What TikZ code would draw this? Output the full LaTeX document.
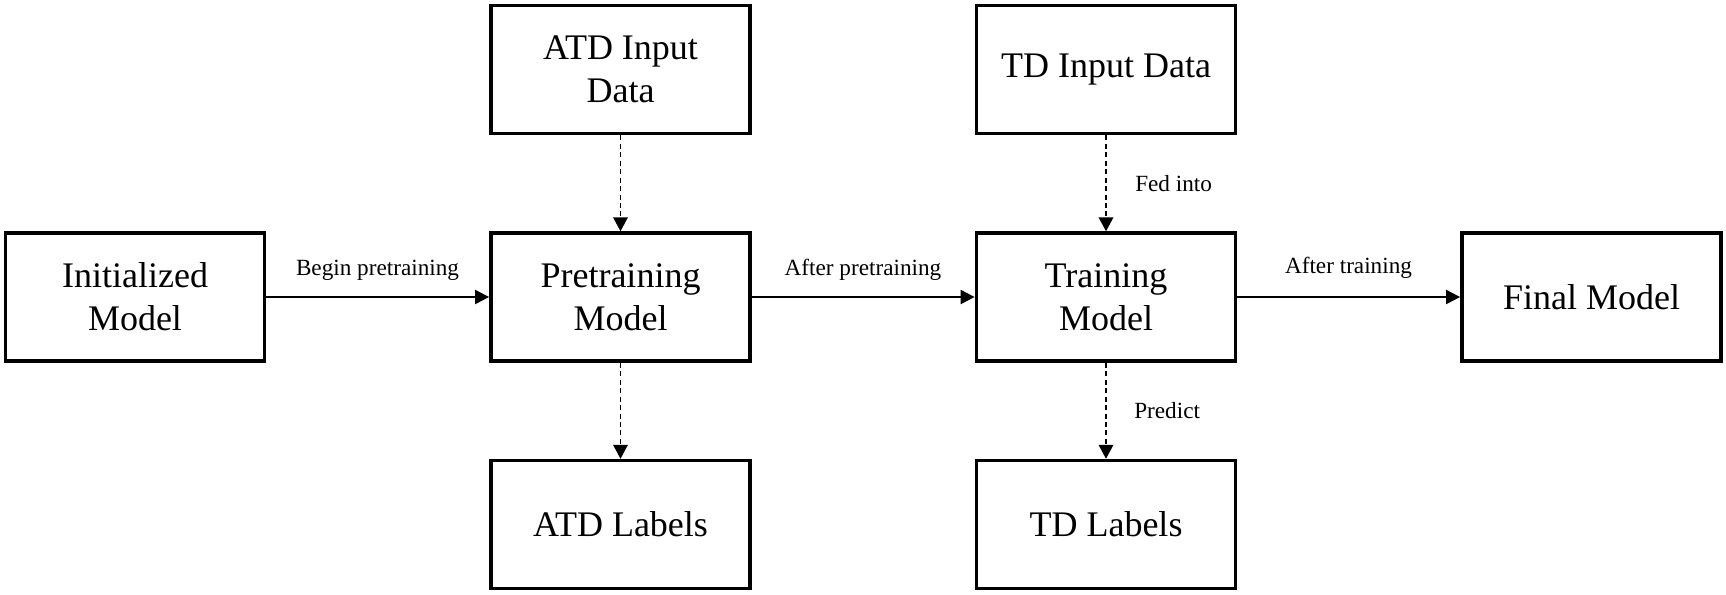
\documentclass[tikz,border=0pt]{standalone}
\usepackage{fontspec}
\setmainfont{Liberation Serif}
\usetikzlibrary{arrows.meta}
\tikzset{
  box/.style={draw=black, line width=2.6pt, inner sep=0pt, align=center,
    minimum width=194.5pt, minimum height=96pt,
    font=\fontsize{27pt}{32.5pt}\selectfont},
  arr/.style={line width=1.5pt, -{Triangle[length=10.5pt,width=10.5pt]}},
  darr/.style={line width=1.1pt, dash pattern=on 3.75pt off 2.6pt, -{Triangle[length=10.5pt,width=11pt]}},
  lbl/.style={inner sep=0pt, font=\fontsize{17.4pt}{20pt}\selectfont}
}
\begin{document}
\begin{tikzpicture}[x=0.75pt,y=-0.75pt]
\useasboundingbox (0,0) rectangle (1726,594);
\node[box] (init) at (135,297) {Initialized\\Model};
\node[box] (pre) at (620.5,297) {Pretraining\\Model};
\node[box] (train) at (1106,297) {Training\\Model};
\node[box] (final) at (1591.5,297) {Final Model};
\node[box] (atdin) at (620.5,69.5) {ATD Input\\Data};
\node[box] (tdin) at (1106,69.5) {TD Input Data};
\node[box] (atdlab) at (620.5,524.5) {ATD Labels};
\node[box] (tdlab) at (1106,524.5) {TD Labels};
\draw[arr] (init) -- (pre);
\draw[arr] (pre) -- (train);
\draw[arr] (train) -- (final);
\draw[darr] (atdin) -- (pre);
\draw[darr] (pre) -- (atdlab);
\draw[darr] (tdin) -- (train);
\draw[darr] (train) -- (tdlab);
\node[lbl, anchor=base] (l1) at (377.5,275) {Begin pretraining};
\node[lbl, anchor=base] (l2) at (863,275) {After pretraining};
\node[lbl, anchor=base] (l3) at (1348.5,273) {After training};
\node[lbl, anchor=base west] (l4) at (1135,191) {Fed into};
\node[lbl, anchor=base west] (l5) at (1134,418) {Predict};
\end{tikzpicture}
\end{document}
